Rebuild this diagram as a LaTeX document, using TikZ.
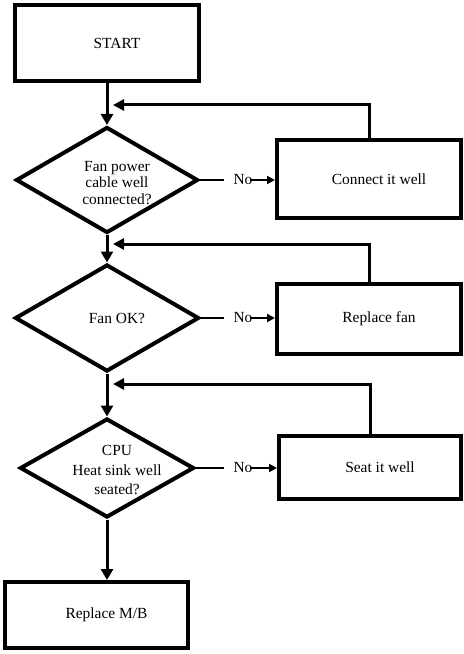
\documentclass[tikz,border=0pt]{standalone}
\usepackage{fontspec}
\setmainfont{Liberation Serif}
\usetikzlibrary{arrows.meta, shapes.geometric}

\begin{document}
\begin{tikzpicture}[x=1bp, y=-1bp, font=\fontsize{15.5}{17}\selectfont,
  box/.style={draw, line width=4bp, inner sep=0pt},
  decision/.style={diamond, draw, line width=4bp, inner sep=0pt},
  txt/.style={align=center, xshift=10bp},
  flow/.style={line width=3bp, -{Triangle[length=11bp, width=12bp]}},
  back/.style={line width=3bp, -{Triangle[length=11bp, width=11bp]}},
  noline/.style={line width=2bp},
  noarrow/.style={line width=2bp, -{Triangle[length=8bp, width=8bp]}}]
  \useasboundingbox (0,0) rectangle (464,654);

  % main column
  \node[box, minimum width=183bp, minimum height=76bp,
    label={[txt]center:START}] (start) at (107,43) {};
  \node[decision, minimum width=182bp, minimum height=106bp,
    label={[txt, yshift=-3bp]center:Fan power\\cable well\\connected?}] (cable) at (107,180) {};
  \node[decision, minimum width=184bp, minimum height=107bp,
    label={[txt]center:Fan OK?}] (fanok) at (107,318) {};
  \node[decision, minimum width=174bp, minimum height=99bp,
    label={[txt, yshift=-2bp]center:CPU\\[3bp]Heat sink well\\[3bp]seated?}] (heatsink) at (107,468) {};
  \node[box, minimum width=183bp, minimum height=66bp,
    label={[txt]center:Replace M/B}] (mb) at (96.5,615) {};

  % fixes on the right
  \node[box, minimum width=184bp, minimum height=78bp,
    label={[txt]center:Connect it well}] (connect) at (369,179) {};
  \node[box, minimum width=184bp, minimum height=70bp,
    label={[txt]center:Replace fan}] (newfan) at (369,319) {};
  \node[box, minimum width=182bp, minimum height=63bp,
    label={[txt]center:Seat it well}] (seat) at (370,467.5) {};

  % "No" labels
  \node[inner sep=0pt] (no1) at (243,180) {No};
  \node[inner sep=0pt] (no2) at (243,318) {No};
  \node[inner sep=0pt] (no3) at (243,468) {No};

  % return points
  \coordinate (j1) at (113,105);
  \coordinate (j2) at (113,244);
  \coordinate (j3) at (113,384);

  \draw[flow] (start.south) -- (cable.north);
  \draw[flow] (cable.south) -- (fanok.north);
  \draw[flow] (fanok.south) -- (heatsink.north);
  \draw[flow] (heatsink.south) -- (heatsink.south |- mb.north);

  \draw[noline] (cable.east) -- ([xshift=-9bp]no1.west);
  \draw[noarrow] ([xshift=-3bp]no1.east) -- (no1.east -| connect.west);
  \draw[noline] (fanok.east) -- ([xshift=-9bp]no2.west);
  \draw[noarrow] ([xshift=-3bp]no2.east) -- (no2.east -| newfan.west);
  \draw[noline] (heatsink.east) -- ([xshift=-9bp]no3.west);
  \draw[noarrow] ([xshift=-3bp]no3.east) -- (no3.east -| seat.west);

  \draw[back] (connect.north) |- (j1);
  \draw[back] (newfan.north) |- (j2);
  \draw[back] (seat.north) |- (j3);
\end{tikzpicture}
\end{document}
